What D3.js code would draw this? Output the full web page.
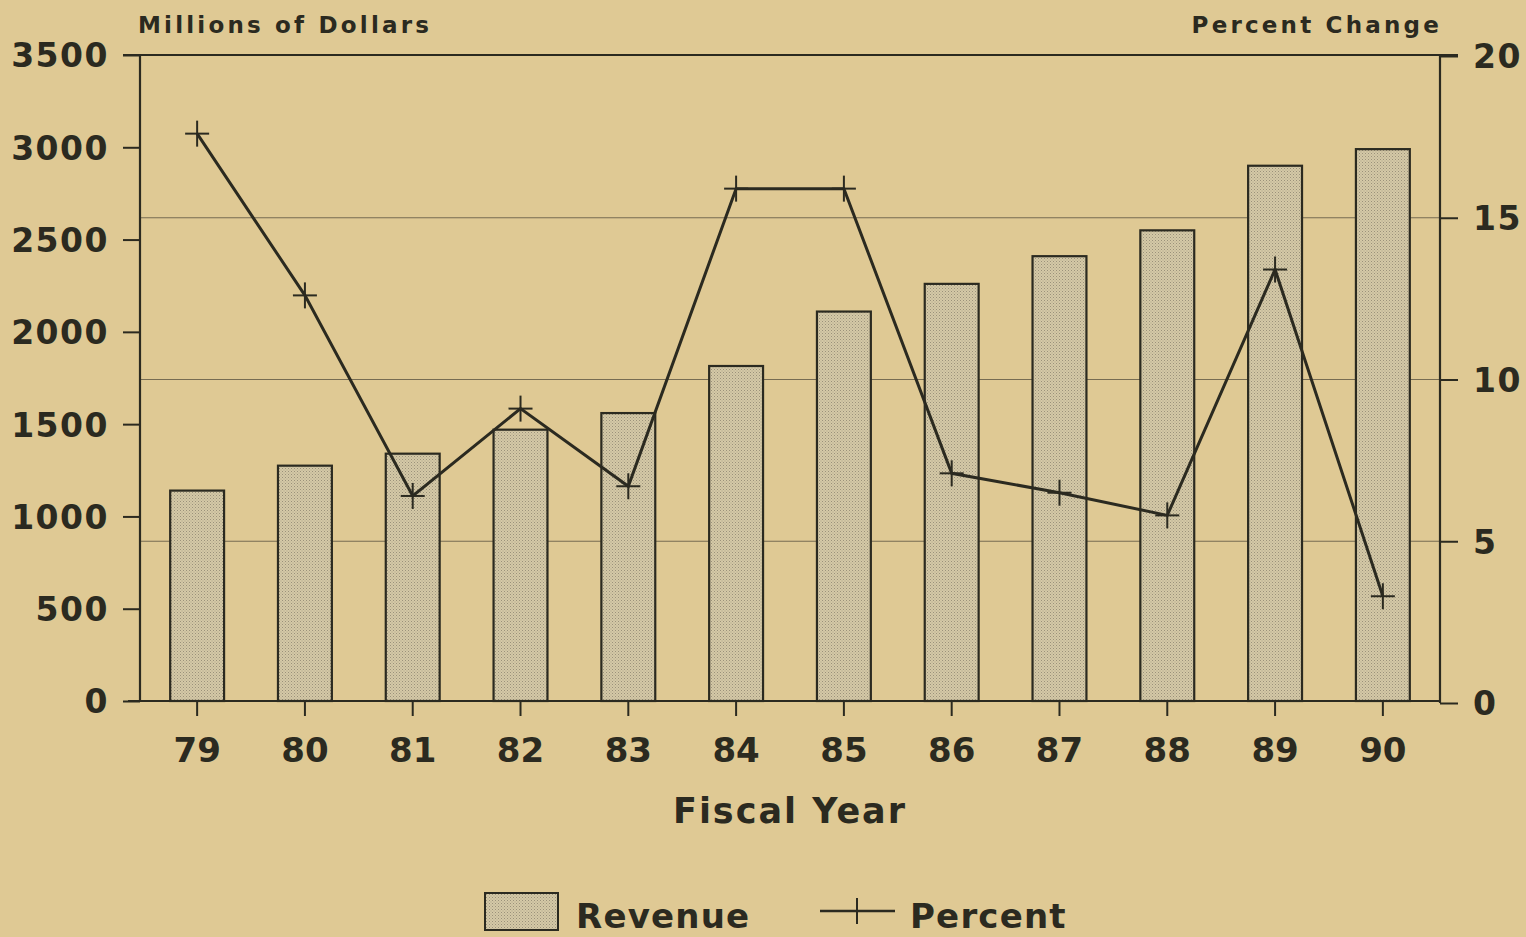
<!DOCTYPE html>
<html><head><meta charset="utf-8">
<script src="https://cdn.jsdelivr.net/npm/d3@7"></script>
<style>
html,body{margin:0;padding:0;background:#dfc994;}
svg{display:block;}
text{font-family:"DejaVu Sans",sans-serif;font-weight:bold;fill:#2b2a20;}
</style></head><body>
<script>
const years = ["79","80","81","82","83","84","85","86","87","88","89","90"];
const revenue = [1140,1275,1340,1470,1560,1815,2110,2260,2410,2550,2900,2990];
const percent = [17.6,12.6,6.4,9.1,6.7,15.9,15.9,7.1,6.5,5.8,13.4,3.3];
const leftTicks = [0,500,1000,1500,2000,2500,3000,3500];
const rightTicks = [0,5,10,15,20];
const gridTicks = [5,10,15];

const W=1526,H=937;
const L=140,R=1440,T=55,B=701;
const ink="#2b2a20";

const svg=d3.select("body").append("svg").attr("width",W).attr("height",H);
const defs=svg.append("defs");
const pat=defs.append("pattern").attr("id","stip").attr("patternUnits","userSpaceOnUse").attr("width",3).attr("height",3);
pat.append("rect").attr("width",3).attr("height",3).attr("fill","#d5c9a6");
pat.append("rect").attr("x",0).attr("y",0).attr("width",1).attr("height",1).attr("fill","#9a917b");
pat.append("rect").attr("x",1.5).attr("y",1.5).attr("width",1).attr("height",1).attr("fill","#aaa18a");

const x=d3.scaleBand().domain(years).range([L,R]).paddingInner(0.5).paddingOuter(0.28);
const yL=d3.scaleLinear().domain([0,3500]).range([B,T]);
const yR=d3.scaleLinear().domain([0,20]).range([B+2,T+1]);

// gridlines (right axis)
svg.append("g").selectAll("line").data(gridTicks).join("line")
  .attr("x1",L).attr("x2",R).attr("y1",d=>yR(d)).attr("y2",d=>yR(d))
  .attr("stroke","#5e5542").attr("stroke-width",1.2).attr("opacity",0.8);

// bars
svg.append("g").selectAll("rect").data(revenue).join("rect")
  .attr("x",(d,i)=>x(years[i])).attr("width",x.bandwidth())
  .attr("y",d=>yL(d)).attr("height",d=>B-yL(d))
  .attr("fill","url(#stip)").attr("stroke",ink).attr("stroke-width",2.2);

// left axis
const gl=svg.append("g").attr("transform",`translate(${L},0)`)
  .call(d3.axisLeft(yL).tickValues(leftTicks).tickSize(17).tickPadding(14).tickFormat(d3.format("d")));
gl.select(".domain").remove();
gl.selectAll(".tick line").attr("stroke",ink).attr("stroke-width",2);
gl.selectAll(".tick text").style("font-size","33px").attr("dy","0.36em").attr("letter-spacing","1.5px");

// right axis
const gr=svg.append("g").attr("transform",`translate(${R},0)`)
  .call(d3.axisRight(yR).tickValues(rightTicks).tickSize(18).tickPadding(15));
gr.select(".domain").remove();
gr.selectAll(".tick line").attr("stroke",ink).attr("stroke-width",2);
gr.selectAll(".tick text").style("font-size","33px").attr("dy","0.36em").attr("letter-spacing","1.5px");

// bottom axis
const gb=svg.append("g").attr("transform",`translate(0,${B})`)
  .call(d3.axisBottom(x).tickSize(15).tickPadding(22));
gb.select(".domain").remove();
gb.selectAll(".tick line").attr("stroke",ink).attr("stroke-width",2);
gb.selectAll(".tick text").style("font-size","34px").attr("dy","0.71em");

// frame lines
const fr=svg.append("g").attr("stroke",ink).attr("fill","none");
fr.append("line").attr("x1",L-17).attr("x2",R+18).attr("y1",yL(3500)).attr("y2",yL(3500)).attr("stroke-width",2.2);
fr.append("line").attr("x1",L).attr("x2",L).attr("y1",yL(3500)).attr("y2",B).attr("stroke-width",2.2);
fr.append("line").attr("x1",R).attr("x2",R).attr("y1",yL(3500)).attr("y2",B+2).attr("stroke-width",2.2);
fr.append("line").attr("x1",L-12).attr("x2",R).attr("y1",B).attr("y2",B).attr("stroke-width",2.2);

// percent line
const line=d3.line().x((d,i)=>x(years[i])+x.bandwidth()/2).y(d=>yR(d));
svg.append("path").datum(percent).attr("d",line).attr("fill","none").attr("stroke",ink).attr("stroke-width",3);
const mk=svg.append("g").selectAll("g").data(percent).join("g")
  .attr("transform",(d,i)=>`translate(${x(years[i])+x.bandwidth()/2},${yR(d)})`);
mk.append("line").attr("x1",-12).attr("x2",12).attr("stroke",ink).attr("stroke-width",2);
mk.append("line").attr("y1",-13).attr("y2",13).attr("stroke",ink).attr("stroke-width",2);

// titles
svg.append("text").attr("x",138).attr("y",33).style("font-size","23px").attr("letter-spacing","3.2px").text("Millions of Dollars");
svg.append("text").attr("x",1442).attr("y",33).attr("text-anchor","end").style("font-size","23px").attr("letter-spacing","3.2px").text("Percent Change");
svg.append("text").attr("x",(L+R)/2).attr("y",823).attr("text-anchor","middle").style("font-size","35px").attr("letter-spacing","2px").text("Fiscal Year");

// legend
svg.append("rect").attr("x",485).attr("y",893).attr("width",73).attr("height",37).attr("fill","url(#stip)").attr("stroke",ink).attr("stroke-width",2);
svg.append("text").attr("x",576).attr("y",928).style("font-size","34px").attr("letter-spacing","1.2px").text("Revenue");
svg.append("line").attr("x1",820).attr("x2",895).attr("y1",911).attr("y2",911).attr("stroke",ink).attr("stroke-width",2.6);
svg.append("line").attr("x1",857).attr("x2",857).attr("y1",898).attr("y2",924).attr("stroke",ink).attr("stroke-width",2);
svg.append("text").attr("x",910).attr("y",928).style("font-size","34px").attr("letter-spacing","1.2px").text("Percent");
</script>
</body></html>
